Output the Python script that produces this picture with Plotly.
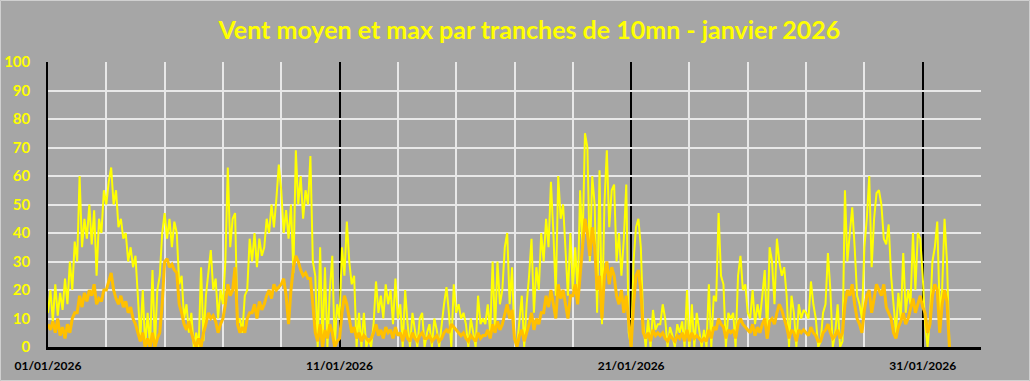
import pandas as pd
import plotly.graph_objects as go

title_text = "Vent moyen et max par tranches de 10mn - janvier 2026"
start_date = "2026-01-01"
step = "2h"

# Vent max (km/h), one line per day, 12 values of 2 hours each
vent_max = [
    12, 20, 9, 22, 11, 19, 13, 24, 15, 30, 20, 37,
    30, 60, 35, 45, 38, 50, 36, 48, 25, 45, 40, 55,
    50, 58, 63, 50, 55, 42, 45, 38, 40, 30, 35, 28,
    32, 15, 3, 20, 0, 12, 0, 27, 0, 20, 25, 40,
    47, 38, 45, 35, 44, 40, 22, 25, 10, 15, 5, 12,
    0, 5, 0, 28, 2, 18, 25, 34, 20, 24, 10, 20,
    15, 30, 63, 35, 45, 47, 8, 10, 5, 18, 20, 38,
    30, 40, 28, 38, 32, 35, 45, 40, 50, 42, 52, 64,
    55, 40, 48, 38, 50, 26, 69, 50, 60, 45, 55, 50,
    67, 30, 25, 0, 35, 0, 28, 0, 20, 32, 0, 15,
    10, 35, 25, 44, 30, 22, 25, 0, 12, 0, 12, 0,
    3, 0, 8, 23, 12, 18, 10, 22, 15, 20, 8, 24,
    10, 15, 0, 20, 8, 0, 12, 5, 0, 10, 12, 0,
    5, 8, 0, 10, 6, 0, 8, 15, 21, 12, 0, 22,
    12, 15, 10, 12, 8, 0, 10, 5, 0, 18, 8, 10,
    8, 15, 5, 30, 5, 30, 15, 20, 35, 40, 15, 28,
    3, 0, 10, 18, 0, 15, 25, 38, 12, 28, 20, 40,
    30, 45, 35, 58, 40, 18, 60, 45, 50, 35, 18, 40,
    20, 35, 18, 55, 35, 75, 70, 30, 60, 50, 12, 62,
    8, 50, 69, 42, 55, 57, 30, 40, 25, 38, 57, 5,
    0, 30, 42, 45, 35, 8, 0, 10, 0, 13, 6, 8,
    8, 15, 10, 0, 7, 4, 0, 8, 5, 9, 0, 20,
    0, 15, 0, 12, 5, 0, 6, 0, 22, 0, 18, 16,
    47, 25, 22, 0, 12, 10, 12, 0, 25, 32, 20, 22,
    12, 10, 20, 8, 15, 10, 18, 27, 3, 35, 30, 15,
    38, 30, 25, 28, 18, 0, 18, 12, 0, 15, 10, 13,
    12, 10, 23, 15, 10, 0, 2, 12, 15, 33, 20, 0,
    5, 15, 0, 2, 55, 30, 40, 49, 35, 18, 15, 10,
    35, 45, 60, 28, 45, 54, 55, 50, 38, 36, 43, 25,
    15, 5, 19, 10, 33, 12, 20, 15, 40, 20, 40, 38,
    25, 8, 0, 10, 30, 35, 44, 12, 20, 45, 30, 0,
]

# Vent moyen (km/h), same time steps
vent_moyen = [
    8, 6, 9, 5, 10, 4, 7, 3, 8, 5, 10, 12,
    12, 18, 14, 19, 16, 20, 18, 22, 15, 17, 16, 20,
    20, 23, 26, 20, 17, 15, 18, 14, 16, 12, 14, 10,
    8, 5, 2, 5, 0, 3, 0, 5, 0, 3, 5, 15,
    30, 31, 28, 29, 27, 26, 15, 12, 8, 6, 9, 5,
    2, 0, 3, 0, 5, 8, 12, 10, 11, 9, 5, 8,
    10, 15, 22, 18, 20, 28, 8, 5, 7, 5, 10, 12,
    12, 15, 10, 16, 13, 15, 18, 20, 17, 22, 20, 21,
    22, 24, 18, 8, 20, 28, 32, 30, 27, 25, 26, 24,
    24, 15, 5, 2, 8, 0, 6, 3, 8, 5, 0, 2,
    3, 12, 18, 15, 10, 5, 7, 3, 5, 2, 4, 3,
    2, 3, 5, 8, 4, 6, 3, 7, 5, 6, 3, 7,
    4, 5, 2, 6, 3, 2, 5, 3, 2, 4, 5, 3,
    3, 4, 2, 3, 4, 2, 3, 5, 6, 5, 8, 7,
    6, 5, 4, 5, 3, 2, 4, 3, 2, 5, 3, 4,
    4, 6, 3, 8, 5, 9, 6, 8, 12, 15, 10, 13,
    3, 0, 4, 6, 2, 5, 8, 12, 6, 10, 8, 12,
    12, 18, 14, 20, 15, 10, 22, 17, 20, 15, 10, 18,
    18, 22, 15, 25, 35, 45, 40, 32, 42, 35, 20, 25,
    10, 25, 30, 22, 28, 25, 18, 15, 20, 12, 18, 8,
    0, 15, 25, 27, 20, 5, 3, 5, 2, 6, 4, 5,
    4, 5, 3, 2, 4, 3, 2, 4, 3, 5, 2, 6,
    2, 5, 3, 4, 3, 2, 3, 2, 6, 3, 7, 6,
    10, 8, 7, 3, 6, 5, 6, 3, 8, 10, 8, 7,
    6, 5, 8, 4, 7, 5, 8, 10, 3, 9, 10, 8,
    12, 15, 13, 10, 7, 3, 6, 5, 2, 6, 5, 6,
    5, 4, 7, 5, 4, 2, 2, 5, 6, 8, 5, 3,
    4, 6, 3, 5, 15, 20, 18, 22, 15, 10, 8, 5,
    13, 18, 20, 12, 17, 22, 20, 18, 22, 14, 12, 10,
    5, 3, 7, 9, 12, 8, 10, 14, 17, 12, 15, 18,
    14, 12, 5, 8, 18, 22, 20, 5, 15, 20, 16, 0,
]

x_range = ["2026-01-01", "2026-02-02"]
label_dates = ["2026-01-01", "2026-01-11", "2026-01-21", "2026-01-31"]
y_ticks = list(range(0, 101, 10))

times = pd.date_range(start_date, periods=len(vent_max), freq=step)

W, H = 1030, 381
ML, MR, MT, MB = 48, 49, 62, 34
PW, PH = W - ML - MR, H - MT - MB

fig = go.Figure()
fig.add_trace(go.Scatter(x=times, y=vent_max, mode="lines", name="Vent max",
                         line=dict(color="#FFFF00", width=2), hoverinfo="x+y"))
fig.add_trace(go.Scatter(x=times, y=vent_moyen, mode="lines", name="Vent moyen",
                         line=dict(color="#FFC000", width=3), hoverinfo="x+y"))

bold = dict(family="Lato, Open Sans, sans-serif", weight="bold")

fig.update_layout(
    width=W, height=H,
    margin=dict(l=ML, r=MR, t=MT, b=MB, autoexpand=False),
    paper_bgcolor="#A6A6A6", plot_bgcolor="#A6A6A6",
    showlegend=False,
    title=dict(text=title_text, x=0.514, xref="container", xanchor="center",
               y=1 - 30 / H, yref="container", yanchor="middle",
               font=dict(size=25, color="#FFFF00", **bold)),
    xaxis=dict(
        type="date", range=x_range,
        tickmode="array", tickvals=label_dates, tickformat="%d/%m/%Y",
        tickfont=dict(size=12, color="#000000", **bold),
        showgrid=True, gridcolor="#000000", gridwidth=1.5,
        showline=True, linecolor="#000000", linewidth=3,
        ticks="", zeroline=False, ticklabelstandoff=6,
        minor=dict(dtick=2 * 86400000, tick0="2026-01-01", showgrid=True,
                   gridcolor="#E8E8E8", gridwidth=1.5, ticks=""),
    ),
    yaxis=dict(
        range=[0, 100], tickmode="array", tickvals=y_ticks,
        tickfont=dict(size=15, color="#FFFF00", **bold),
        showgrid=True, gridcolor="#E8E8E8", gridwidth=1.5,
        showline=True, linecolor="#000000", linewidth=1.5,
        ticks="", zeroline=False, ticklabelstandoff=13,
    ),
    shapes=[dict(type="rect", xref="paper", yref="paper",
                 x0=(-ML + 0.5) / PW, x1=(PW + MR - 0.5) / PW,
                 y0=(-MB + 0.5) / PH, y1=(PH + MT - 0.5) / PH,
                 line=dict(color="#D0D0D0", width=1), layer="below")],
)

fig.write_html("out.html", config={"displayModeBar": False},
               post_script="document.body.style.margin='0';")
